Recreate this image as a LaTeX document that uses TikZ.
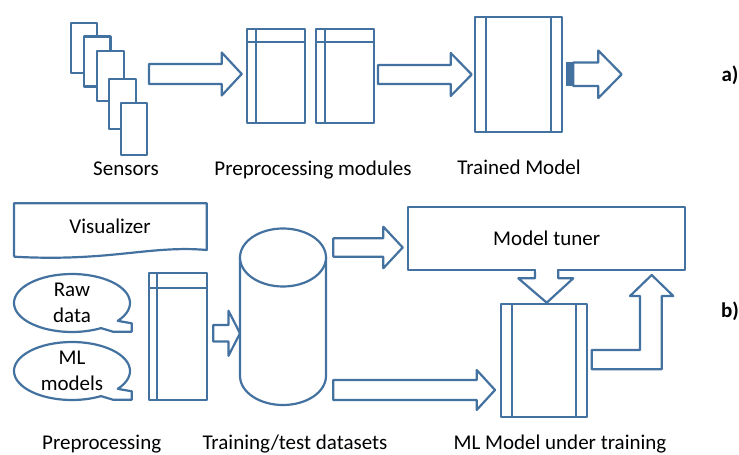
\documentclass[tikz,border=0pt]{standalone}
\usepackage{fontspec}
\setmainfont{Carlito}
\usetikzlibrary{calc}
\definecolor{blu}{RGB}{68,114,160}
\tikzset{
  blk/.style={draw=blu, line width=2.2pt, fill=white},
  sensbox/.style={blk, minimum width=26.7pt, minimum height=50pt, inner sep=0pt},
  modbox/.style n args={4}{blk, minimum width=#1, minimum height=#2, inner sep=0pt,
    path picture={
      \draw[blu, line width=2.2pt] ([xshift=#3]path picture bounding box.north west) -- ([xshift=#3]path picture bounding box.south west);
      \draw[blu, line width=2.2pt] ([yshift=-#4]path picture bounding box.north west) -- ([yshift=-#4]path picture bounding box.north east);}},
  mlbox/.style n args={3}{blk, minimum width=#1, minimum height=#2, inner sep=0pt,
    path picture={
      \draw[blu, line width=2.2pt] ([xshift=#3]path picture bounding box.north west) -- ([xshift=#3]path picture bounding box.south west);
      \draw[blu, line width=2.2pt] ([xshift=-#3]path picture bounding box.north east) -- ([xshift=-#3]path picture bounding box.south east);}},
  lbl/.style={anchor=base}
}
% block arrow: start, tip, shaft half, head half, head length
\newcommand\blockarrow[5]{%
  \draw[blk] ($(#1)+(0,#3)$) -- ($(#2)+(-#5,#3)$) -- ($(#2)+(-#5,#4)$) -- (#2)
    -- ($(#2)+(-#5,-#4)$) -- ($(#2)+(-#5,-#3)$) -- ($(#1)+(0,-#3)$) -- cycle;}

\begin{document}
\begin{tikzpicture}[x=1pt, y=1pt, line join=round, font=\fontsize{21}{25.5}\selectfont]
\useasboundingbox (0,0) rectangle (739,455);

% a)
\node[sensbox] (s1) at (84,406.7) {};
\node[sensbox] (s2) at (97.2,393.5) {};
\node[sensbox] (s3) at (110.7,379.3) {};
\node[sensbox] (s4) at (122.3,350.7) {};
\node[sensbox, minimum height=51.7pt] (s5) at (134,325.8) {};
\node[lbl] (lsens) at (126,279.3) {Sensors};

\coordinate (a1s) at (149,381);
\coordinate (a1e) at (241.7,381);
\blockarrow{a1s}{a1e}{10}{21.5}{20}

\node[modbox={58pt}{93.4pt}{8.7pt}{12.4pt}] (pm1) at (276.3,379) {};
\node[modbox={58pt}{93.4pt}{8.7pt}{12.4pt}] (pm2) at (345,379) {};
\node[lbl] (lprep) at (313,279.3) {Preprocessing modules};

\coordinate (a2s) at (378,380.5);
\coordinate (a2e) at (471.7,380.5);
\blockarrow{a2s}{a2e}{9.5}{21.5}{21}

\node[mlbox={86.7pt}{115pt}{11pt}] (tm) at (518.3,380.8) {};
\node[lbl] (ltm) at (519,280) {Trained Model};

\fill[blu] (565.7,369) rectangle (573.3,392.7);
\coordinate (a3s) at (573.3,380.7);
\coordinate (a3e) at (621.7,380.7);
\blockarrow{a3s}{a3e}{11.8}{23.8}{23.4}

\node[font=\fontsize{21}{25}\selectfont\bfseries] (la) at (730,380) {a)};

% b)
\draw[blk] (14,198.3) -- (14,251.7) -- (206.7,251.7) -- (206.7,205)
  .. controls (150,210) and (110,193) .. (14,198.3);
\node (vis) at (110,228.3) {Visualizer};

\begin{scope}[shift={(72,152)}]
  \draw[blk] (-38:58 and 29) arc[start angle=-38, end angle=300, x radius=58, y radius=29]
    -- (41,-28.7) -- (59.7,-28.7) -- (59.7,-20.3) -- cycle;
\end{scope}
\node[align=center] (raw) at (72,152) {Raw\\data};
\begin{scope}[shift={(72,84)}]
  \draw[blk] (-38:58 and 29) arc[start angle=-38, end angle=300, x radius=58, y radius=29]
    -- (41,-28.7) -- (59.7,-28.7) -- (59.7,-20.3) -- cycle;
\end{scope}
\node[align=center] (mlm) at (72,84) {ML\\models};

\node[modbox={57.7pt}{127.3pt}{7.7pt}{15.6pt}] (pb) at (177.8,118.7) {};
\node[lbl] (lpb) at (101.7,5) {Preprocessing};

\coordinate (a4s) at (213.3,121.7);
\coordinate (a4e) at (240,121.7);
\blockarrow{a4s}{a4e}{8.3}{22.5}{11.5}

\draw[blk] (240,197.5) -- (240,79) arc[start angle=180, end angle=360, x radius=43, y radius=29] -- (326,197.5);
\draw[blk] (283,197.5) ellipse[x radius=43, y radius=29];
\coordinate (db) at (283,138);
\node[lbl] (ldb) at (295,5) {Training/test datasets};

\coordinate (a5s) at (333.3,207.5);
\coordinate (a5e) at (402.7,207.5);
\blockarrow{a5s}{a5e}{9.2}{20.8}{19.4}

\node[blk, minimum width=276.7pt, minimum height=63.3pt, inner sep=0pt] (tun) at (546.7,216.7) {Model tuner};

\node[mlbox={86.6pt}{113.3pt}{11pt}] (mlt) at (544,94.3) {};
\node[lbl] (lmlt) at (560,5) {ML Model under training};

% arrow out of the tuner, open at the top
\draw[blk] (535,185) -- (535,176.7) -- (518.3,176.7) -- (546.7,152.3) -- (573.3,176.7)
  -- (558.3,176.7) -- (558.3,185);
\fill[white] (536.3,183.2) rectangle (557,187.2);

\coordinate (a6s) at (333.3,65);
\coordinate (a6e) at (495,65);
\blockarrow{a6s}{a6e}{10}{20}{18.3}

\draw[blk] (591.7,105) -- (640,105) -- (640,159) -- (630,159) -- (651.7,180) -- (673.3,159)
  -- (661.7,159) -- (661.7,85.7) -- (591.7,85.7) -- cycle;

\node[font=\fontsize{21}{25}\selectfont\bfseries] (lb) at (730,143.3) {b)};
\end{tikzpicture}
\end{document}
